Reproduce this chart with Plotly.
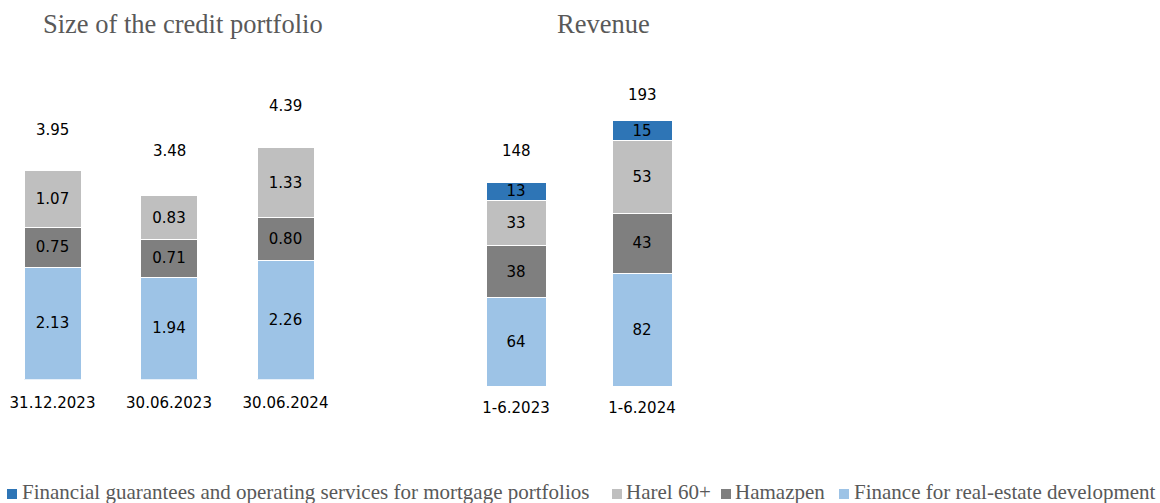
import plotly.graph_objects as go

# ---- data ----
portfolio_dates = ["31.12.2023", "30.06.2023", "30.06.2024"]
portfolio_real_estate = [2.13, 1.94, 2.26]
portfolio_hamazpen = [0.75, 0.71, 0.80]
portfolio_harel60 = [1.07, 0.83, 1.33]
portfolio_totals = [3.95, 3.48, 4.39]

revenue_periods = ["1-6.2023", "1-6.2024"]
revenue_real_estate = [64, 82]
revenue_hamazpen = [38, 43]
revenue_harel60 = [33, 53]
revenue_guarantees = [13, 15]
revenue_totals = [148, 193]

series_names = [
    "Financial guarantees and operating services for mortgage portfolios",
    "Harel 60+",
    "Hamazpen",
    "Finance for real-estate development",
]
colors = {
    "guar": "#2E75B6",
    "harel": "#BFBFBF",
    "hamaz": "#7F7F7F",
    "real": "#9DC3E6",
}

# ---- style / layout constants ----
W, H = 1160, 503
NUM_FONT = dict(family="DejaVu Sans, sans-serif", size=15, color="black")
SERIF = "Liberation Serif, Times New Roman, serif"
GREY = "#595959"

# geometry (pixels)
L_c0, L_step, L_base, L_ppu, L_bw = 52.5, 116.5, 379.5, 52.8, 57
R_c0, R_step, R_base, R_ppu, R_bw = 516, 126, 386, 1.377, 60
L_total_shift = [41, 45, 42]
R_total_shift = [31, 25]


def fmt2(v):
    return f"{v:.2f}"


fig = go.Figure()


def add_bar(x, y, color, name, xa, ya, width, texts):
    fig.add_trace(go.Bar(
        x=x, y=y, name=name, marker=dict(color=color, line=dict(color="white", width=1)),
        xaxis=xa, yaxis=ya, width=width, text=texts, textposition="inside",
        insidetextanchor="middle", textfont=NUM_FONT, constraintext="none", textangle=0,
        showlegend=False, hoverinfo="x+y+name",
    ))


lw = L_bw / L_step
rw = R_bw / R_step
add_bar(portfolio_dates, portfolio_real_estate, colors["real"], series_names[3], "x", "y", lw,
        [fmt2(v) for v in portfolio_real_estate])
add_bar(portfolio_dates, portfolio_hamazpen, colors["hamaz"], series_names[2], "x", "y", lw,
        [fmt2(v) for v in portfolio_hamazpen])
add_bar(portfolio_dates, portfolio_harel60, colors["harel"], series_names[1], "x", "y", lw,
        [fmt2(v) for v in portfolio_harel60])

add_bar(revenue_periods, revenue_real_estate, colors["real"], series_names[3], "x2", "y2", rw,
        [str(v) for v in revenue_real_estate])
add_bar(revenue_periods, revenue_hamazpen, colors["hamaz"], series_names[2], "x2", "y2", rw,
        [str(v) for v in revenue_hamazpen])
add_bar(revenue_periods, revenue_harel60, colors["harel"], series_names[1], "x2", "y2", rw,
        [str(v) for v in revenue_harel60])
add_bar(revenue_periods, revenue_guarantees, colors["guar"], series_names[0], "x2", "y2", rw,
        [str(v) for v in revenue_guarantees])

annotations = []
for i, (d, t) in enumerate(zip(portfolio_dates, portfolio_totals)):
    annotations.append(dict(x=d, y=t, xref="x", yref="y", text=fmt2(t), showarrow=False,
                            yanchor="middle", yshift=L_total_shift[i], font=NUM_FONT))
for i, (d, t) in enumerate(zip(revenue_periods, revenue_totals)):
    annotations.append(dict(x=d, y=t, xref="x2", yref="y2", text=str(t), showarrow=False,
                            yanchor="middle", yshift=R_total_shift[i], font=NUM_FONT))

# titles
annotations.append(dict(x=183 / W, y=1 - 24 / H, xref="paper", yref="paper",
                        text="Size of the credit portfolio", showarrow=False,
                        xanchor="center", yanchor="middle",
                        font=dict(family=SERIF, size=26.5, color=GREY)))
annotations.append(dict(x=603 / W, y=1 - 24 / H, xref="paper", yref="paper",
                        text="Revenue", showarrow=False, xanchor="center", yanchor="middle",
                        font=dict(family=SERIF, size=26.5, color=GREY)))

# legend (drawn as square keys + text)
LEG_Y = 492          # text centre (px from top)
SQ_TOP, SQ = 489, 10  # square key top and size (px)
legend_items = [
    (7, 20, colors["guar"], series_names[0]),
    (612, 624, colors["harel"], series_names[1]),
    (721, 733, colors["hamaz"], series_names[2]),
    (839, 852, colors["real"], series_names[3]),
]
shapes = []
for sq_x, tx_x, col, name in legend_items:
    shapes.append(dict(type="rect", xref="paper", yref="paper",
                       x0=sq_x / W, x1=(sq_x + SQ) / W,
                       y0=1 - (SQ_TOP + SQ) / H, y1=1 - SQ_TOP / H,
                       fillcolor=col, line=dict(width=0)))
    annotations.append(dict(
        x=tx_x / W, y=1 - LEG_Y / H, xref="paper", yref="paper", showarrow=False,
        xanchor="left", yanchor="middle", text=name,
        font=dict(family=SERIF, size=21, color=GREY)))

# axes
L_dom = (0, 351 / W)
L_range = [(0 - L_c0) / L_step, (351 - L_c0) / L_step]
R_left, R_right = 451, 705
R_dom = (R_left / W, R_right / W)
R_range = [(R_left - R_c0) / R_step, (R_right - R_c0) / R_step]

axis_common = dict(showgrid=False, zeroline=False, showline=False, ticks="",
                   tickfont=NUM_FONT, fixedrange=True)
fig.update_layout(
    width=W, height=H, margin=dict(l=0, r=0, t=0, b=0),
    paper_bgcolor="white", plot_bgcolor="white",
    barmode="stack", showlegend=False,
    xaxis=dict(domain=L_dom, range=L_range, type="category", anchor="y",
               ticklabelstandoff=12, **axis_common),
    yaxis=dict(domain=[(H - L_base) / H, 1], range=[0, L_base / L_ppu], visible=False,
               anchor="x"),
    xaxis2=dict(domain=R_dom, range=R_range, type="category", anchor="y2",
                ticklabelstandoff=11, **axis_common),
    yaxis2=dict(domain=[(H - R_base) / H, 1], range=[0, R_base / R_ppu], visible=False,
                anchor="x2"),
    annotations=annotations,
    shapes=shapes,
)

fig.write_html("out.html", config={"displayModeBar": False},
               post_script="document.body.style.margin='0';document.body.style.overflow='hidden';")
